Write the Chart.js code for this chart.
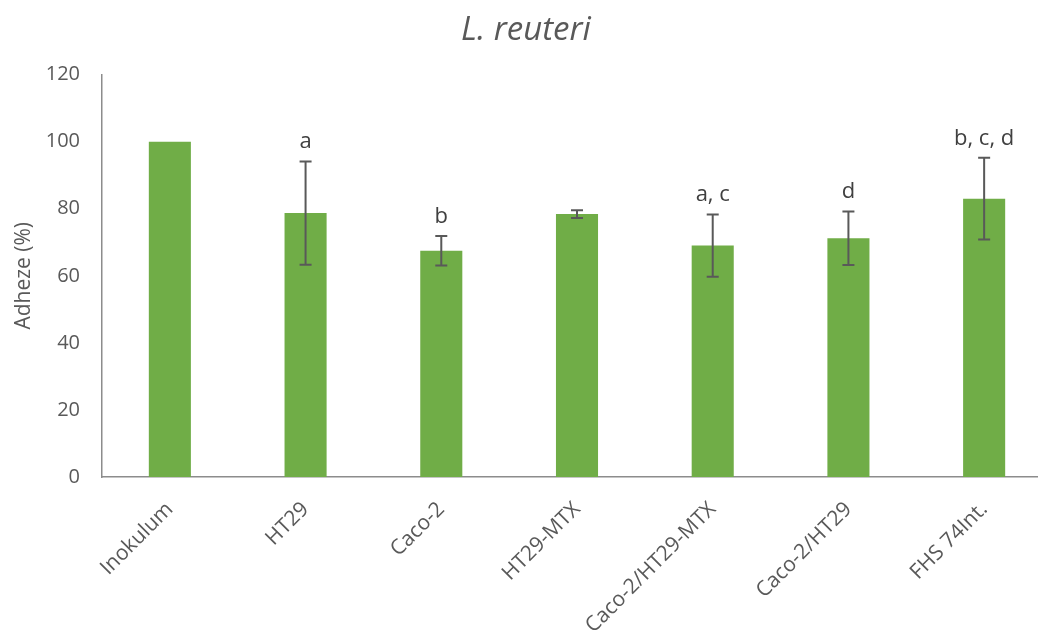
<!DOCTYPE html>
<html>
<head>
<meta charset="utf-8">
<script src="https://cdn.jsdelivr.net/npm/chart.js@4"></script>
<style>
  html, body { margin: 0; padding: 0; background: #fff; overflow: hidden; }
  #wrap { width: 1052px; height: 630px; }
</style>
</head>
<body>
<div id="wrap"><canvas id="c" width="1052" height="630"></canvas></div>
<script>
// Adhesion of L. reuteri to the different cell models (% of inoculum)
const categories = ['Inokulum', 'HT29', 'Caco-2', 'HT29-MTX', 'Caco-2/HT29-MTX', 'Caco-2/HT29', 'FHS 74Int.'];
const adhesion = [100, 78.7, 67.5, 78.4, 69.0, 71.2, 83.0];
const errors = [0, 15.4, 4.4, 1.15, 9.3, 8.0, 12.2];
const groupLetters = ['', 'a', 'b', '', 'a, c', 'd', 'b, c, d'];
const yTicks = [0, 20, 40, 60, 80, 100, 120];

const FONT = "'Open Sans', 'DejaVu Sans', sans-serif";
const TEXT = '#595959';

// Error bars and significance letters drawn on top of the bars
const errorBarPlugin = {
  id: 'errorBars',
  afterDatasetsDraw(chart) {
    const { ctx, scales: { x, y } } = chart;
    ctx.save();
    ctx.strokeStyle = '#595959';
    ctx.lineWidth = 2;
    const cap = 6;
    adhesion.forEach((v, i) => {
      const cx = x.getPixelForValue(i);
      const e = errors[i];
      let topPx = y.getPixelForValue(v);
      if (e > 0) {
        const hi = y.getPixelForValue(v + e);
        const lo = y.getPixelForValue(v - e);
        ctx.beginPath();
        ctx.moveTo(cx, hi); ctx.lineTo(cx, lo);
        ctx.moveTo(cx - cap, hi); ctx.lineTo(cx + cap, hi);
        ctx.moveTo(cx - cap, lo); ctx.lineTo(cx + cap, lo);
        ctx.stroke();
        topPx = hi;
      }
      if (groupLetters[i]) {
        ctx.fillStyle = '#404040';
        ctx.font = '22px ' + FONT;
        ctx.textAlign = 'center';
        ctx.textBaseline = 'alphabetic';
        ctx.fillText(groupLetters[i], cx, topPx - 13);
      }
    });
    ctx.restore();
  }
};

new Chart(document.getElementById('c'), {
  type: 'bar',
  data: {
    labels: categories,
    datasets: [{
      data: adhesion,
      backgroundColor: '#70AD47',
      borderWidth: 0,
      barPercentage: 1,
      categoryPercentage: 0.31
    }]
  },
  options: {
    responsive: false,
    animation: false,
    devicePixelRatio: 1,
    layout: { padding: { left: 0, right: 0, top: 0, bottom: 0 } },
    plugins: {
      legend: { display: false },
      tooltip: { enabled: false },
      title: {
        display: true,
        text: 'L. reuteri',
        color: TEXT,
        font: { family: FONT, size: 33, style: 'italic', weight: 'normal', lineHeight: 1.2 },
        padding: { top: 11, bottom: 24 }
      }
    },
    scales: {
      y: {
        min: 0,
        max: 120,
        afterBuildTicks(scale) { scale.ticks = yTicks.map(v => ({ value: v })); },
        afterFit(scale) { scale.width = 102; },
        grid: { display: false, drawTicks: false },
        border: { display: true, color: '#8c8c8c', width: 1.5 },
        ticks: { color: TEXT, padding: 22, font: { family: FONT, size: 20 } },
        title: {
          display: true,
          text: 'Adheze (%)',
          color: TEXT,
          font: { family: FONT, size: 21 },
          padding: { top: 11, bottom: 0 }
        }
      },
      x: {
        afterFit(scale) { scale.height = 153; },
        grid: { display: false, drawTicks: false },
        border: { display: true, color: '#8c8c8c', width: 1.5 },
        ticks: {
          color: TEXT,
          autoSkip: false,
          minRotation: 45,
          maxRotation: 45,
          padding: 20,
          font: { family: FONT, size: 21 }
        }
      }
    }
  },
  plugins: [errorBarPlugin]
});
</script>
</body>
</html>
